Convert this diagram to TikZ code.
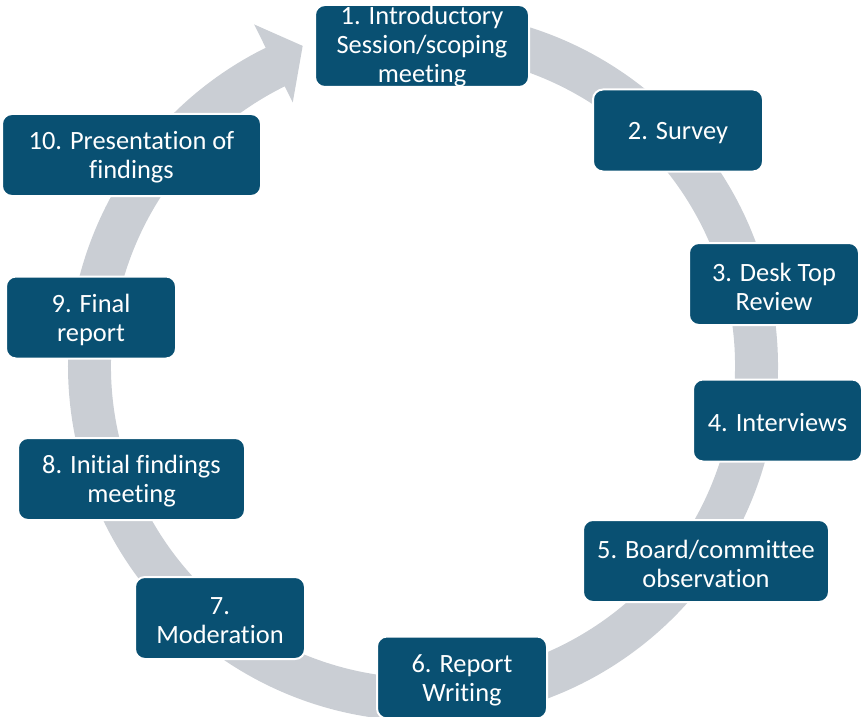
\documentclass[tikz,border=0pt]{standalone}
\usepackage{fontspec}
\setmainfont{Carlito}[Ligatures=NoCommon]
\usetikzlibrary{calc}
\definecolor{stepblue}{RGB}{9,80,114}
\definecolor{ringgray}{RGB}{202,206,212}
\tikzset{
  stepbox/.style={rectangle, rounded corners=10pt, fill=stepblue, draw=white,
    line width=2pt, inner sep=0pt, minimum height=82pt},
  steptext/.style={text=white, align=center, inner sep=0pt, yshift=-2.5pt,
    font=\fontsize{26.4}{29}\selectfont},
}
\begin{document}
\begin{tikzpicture}[x=1pt,y=-1pt]
\useasboundingbox (0,0) rectangle (863,717);
% circular ring with its single arrowhead
\coordinate (c) at (423,366);
\fill[ringgray] ($(c)+(-95:355)$) arc[start angle=-95, end angle=243.7, radius=355]
  -- ($(c)+(243.7:381)$) -- ($(c)+(249.4:342)$) -- ($(c)+(243.7:294)$)
  -- ($(c)+(243.7:312)$) arc[start angle=243.7, end angle=-95, radius=312] -- cycle;
% process steps
\node[stepbox, minimum width=214pt, label={[steptext, yshift=1.5pt]center:{1. Introductory\\Session/scoping\\meeting}}] (s1) at (422,46) {};
\node[stepbox, minimum width=170pt, label={[steptext]center:{2. Survey}}] (s2) at (678,130.5) {};
\node[stepbox, minimum width=170pt, label={[steptext]center:{3. Desk Top\\Review}}] (s3) at (774,284) {};
\node[stepbox, minimum width=169pt, label={[steptext]center:{4. Interviews}}] (s4) at (777.5,420.5) {};
\node[stepbox, minimum width=246pt, label={[steptext]center:{5. Board/committee\\observation}}] (s5) at (706,561) {};
\node[stepbox, minimum width=170pt, label={[steptext]center:{6. Report\\Writing}}] (s6) at (462,677.5) {};
\node[stepbox, minimum width=170pt, label={[steptext]center:{7.\\Moderation}}] (s7) at (220,618) {};
\node[stepbox, minimum width=227pt, label={[steptext]center:{8. Initial findings\\meeting}}] (s8) at (131.5,479) {};
\node[stepbox, minimum width=170pt, label={[steptext]center:{9. Final\\report}}] (s9) at (91,317.5) {};
\node[stepbox, minimum width=259pt, label={[steptext]center:{10. Presentation of\\findings}}] (s10) at (131.5,155) {};
\end{tikzpicture}
\end{document}
